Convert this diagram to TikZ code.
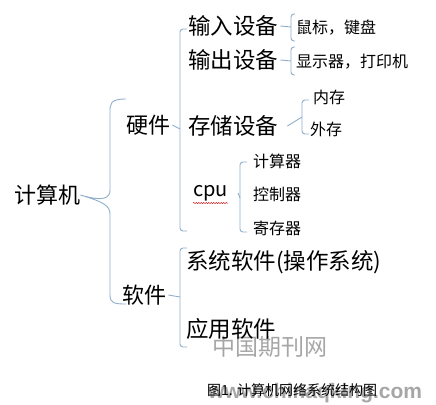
\documentclass[tikz,border=0pt]{standalone}
\usepackage{fontspec}
\setmainfont{Noto Sans CJK SC}
\newfontfamily\urlfont{Liberation Sans}
\usetikzlibrary{calc,decorations.pathmorphing}
\definecolor{brkblue}{HTML}{8EAECB}
\definecolor{wmgray}{HTML}{A6A6A6}
\tikzset{
  brk/.style={draw=brkblue,line width=.9pt,rounded corners=3pt},
  big/.style={anchor=west,inner sep=0pt,font=\fontsize{22}{22}\selectfont},
  mid/.style={anchor=west,inner sep=0pt,font=\fontsize{22.5}{22.5}\selectfont},
  leaf/.style={anchor=west,inner sep=0pt,font=\fontsize{16}{16}\selectfont},
  wmark/.style={text=wmgray,inner sep=0pt},
}
\begin{document}
\begin{tikzpicture}[x=1pt,y=-1pt]
  \useasboundingbox (0,0) rectangle (436,404);
  % watermark
  \node[wmark,anchor=west,font=\fontsize{23}{23}\selectfont] (wm) at (212,347) {中国期刊网};
  \node[wmark,anchor=west,font=\urlfont\fontsize{21}{21}\selectfont\bfseries] (url) at (208,393) {www.chinaqking.com};
  % root and first level
  \node[big] (comp) at (14,195) {计算机};
  \node[big] (hw) at (126,125) {硬件};
  \node[big] (sw) at (122,295) {软件};
  % hardware
  \node[mid] (inp) at (188,26) {输入设备};
  \node[mid] (outp) at (188,60) {输出设备};
  \node[mid] (stor) at (188,126) {存储设备};
  \node[anchor=west,inner sep=0pt,font=\fontsize{20}{20}\selectfont] (cpu) at (193,193) {cpu};
  \node[leaf] (kb) at (296,28) {鼠标，键盘};
  \node[leaf] (disp) at (296,62) {显示器，打印机};
  \node[leaf] (ram) at (313,97) {内存};
  \node[leaf] (rom) at (310,129) {外存};
  \node[leaf] (alu) at (253,161) {计算器};
  \node[leaf] (ctl) at (253,194) {控制器};
  \node[leaf] (reg) at (253,228) {寄存器};
  % software
  \node[mid] (os) at (186,262) {系统软件(操作系统)};
  \node[mid] (app) at (186,329) {应用软件};
  % caption
  \node[anchor=west,inner sep=0pt,font=\fontsize{14}{14}\selectfont] (cap) at (207,390) {图1. 计算机网络系统结构图};
  % brackets
  \draw[brkblue,line width=.9pt] (126,99) .. controls (110,99) and (110,104) .. (110,112)
    -- (110,190) .. controls (110,198) and (104,202) .. (comp.east)
    (comp.east) .. controls (104,202) and (110,206) .. (110,214)
    -- (110,295) .. controls (110,303) and (114,304) .. (126,304);
  \draw[brk] (187,29) -- (180,29) -- (180,231) -- (187,231);
  \draw[brk] ([xshift=2pt]hw.east) -- (180,129);
  \draw[brk] (187,248) -- (180,248) -- (180,347) -- (187,347);
  \draw[brk] ([xshift=2pt]sw.east) -- (180,297);
  \draw[brk] (295,14) -- (291,14) -- (291,41) -- (295,41);
  \draw[brk] ([xshift=2pt]inp.east) -- (291,27);
  \draw[brk] (295,47) -- (291,47) -- (291,75) -- (295,75);
  \draw[brk] ([xshift=2pt]outp.east) -- (291,61);
  \draw[brk] (309,100) -- (302,100) -- (302,134) -- (309,134);
  \draw[brk] ([xshift=9pt]stor.east) -- (302,117);
  \draw[brk] (247,162) -- (240,162) -- (240,232) -- (247,232);
  \draw[brk] ([xshift=10pt]cpu.east) -- (240,198);
  % spell-check underline
  \draw[red!80!black,line width=.4pt,decorate,decoration={snake,amplitude=.6pt,segment length=2.5pt}]
    ([yshift=-2pt]cpu.south west) -- ([yshift=-2pt]cpu.south east);
\end{tikzpicture}
\end{document}
